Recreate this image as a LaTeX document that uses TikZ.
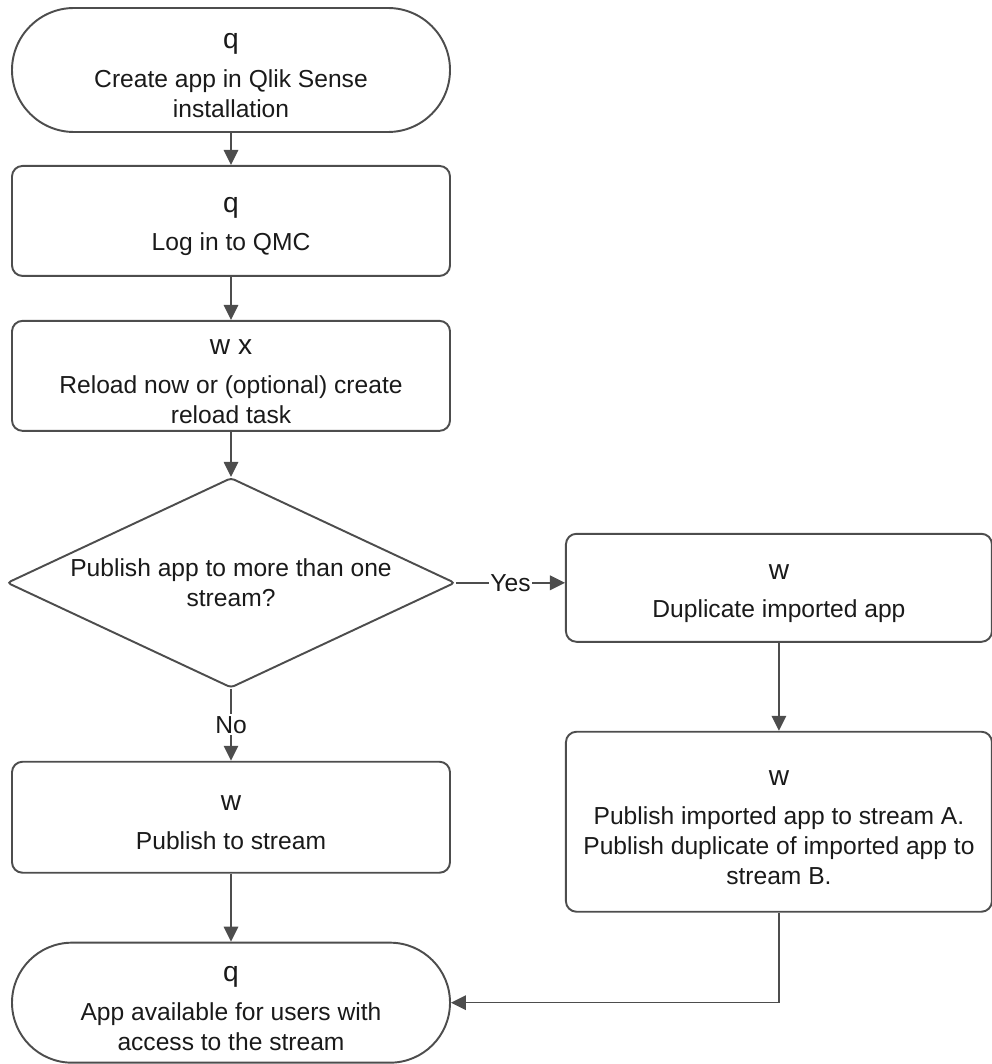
\documentclass[tikz,border=0pt]{standalone}
\usepackage{fontspec}
\setmainfont{Liberation Sans}
\usepackage{tikz}
\usetikzlibrary{shapes.geometric,arrows.meta,positioning}
\usepackage{xcolor}
\definecolor{lineGray}{HTML}{4D4D4D}
\definecolor{textDark}{HTML}{1A1A1A}
% icon glyph line above each step text
\newcommand{\icon}[1]{\rule{0pt}{15pt}{\fontsize{16}{17}\selectfont #1}}

\begin{document}
\begin{tikzpicture}[
    node distance=0.9cm and 2.18cm,
    every node/.style={text=textDark, font=\fontsize{14}{17}\selectfont},
    task/.style={rectangle, draw=lineGray, line width=1.1pt, rounded corners=6pt,
                 minimum width=8.76cm, minimum height=2.2cm,
                 align=center, inner sep=2pt},
    wide/.style={task, minimum width=8.52cm},
    terminal/.style={rectangle, draw=lineGray, line width=1.1pt,
                     minimum width=8.76cm, align=center},
    decision/.style={diamond, draw=lineGray, line width=1.1pt, rounded corners=2pt,
                     minimum width=8.96cm, minimum height=4.2cm,
                     aspect=2.13, inner sep=0pt, align=center},
    arrow/.style={-{Triangle[length=3mm, width=2.9mm]}, draw=lineGray, line width=0.9pt},
    lbl/.style={fill=white, inner sep=1pt},
]
    \useasboundingbox (0,0) rectangle (19.84,-21.28);

    % left column
    \node[terminal, minimum height=2.48cm, rounded corners=1.24cm]
         at (4.62,-1.40) (start)
         {\icon{q}\\[5pt]Create app in Qlik Sense\\installation};
    \node[task, below=0.64cm of start] (login)
         {\icon{q}\\[5pt]Log in to QMC};
    \node[task, below=0.86cm of login] (reload)
         {\icon{w x}\\[5pt]Reload now or (optional) create\\reload task};
    \node[decision, below=0.9cm of reload] (decide)
         {Publish app to more than one\\stream?};
    \node[task, minimum height=2.22cm, below=1.44cm of decide] (publish)
         {\icon{w}\\[5pt]Publish to stream};
    \node[terminal, minimum height=2.4cm, rounded corners=1.2cm,
          below=1.36cm of publish] (finish)
         {\icon{q}\\[5pt]App available for users with\\access to the stream};

    % right column
    \node[wide, minimum height=2.16cm, right=2.18cm of decide, yshift=-0.1cm] (dup)
         {\icon{w}\\[5pt]Duplicate imported app};
    \node[wide, minimum height=3.6cm, below=1.76cm of dup] (pubboth)
         {\icon{w}\\[5pt]Publish imported app to stream A.\\
          Publish duplicate of imported app to\\stream B.};

    \draw[arrow] (start) -- (login);
    \draw[arrow] (login) -- (reload);
    \draw[arrow] (reload) -- (decide);
    \draw[arrow] (decide) -- node[lbl] {No} (publish);
    \draw[arrow] (decide.east) -- node[lbl] {Yes} (decide.east -| dup.west);
    \draw[arrow] (dup) -- (pubboth);
    \draw[arrow] (publish) -- (finish);
    \draw[arrow] (pubboth.south) |- (finish.east);
\end{tikzpicture}
\end{document}
